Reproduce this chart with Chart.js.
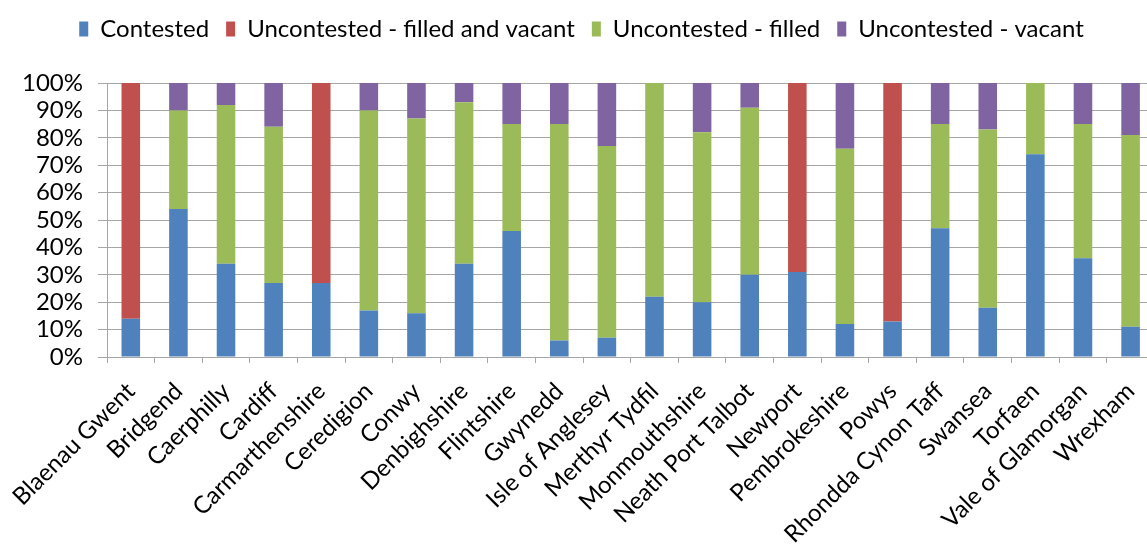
<!DOCTYPE html>
<html>
<head>
<meta charset="utf-8">
<script src="https://cdn.jsdelivr.net/npm/chart.js@4/dist/chart.umd.min.js"></script>
<style>
  html, body { margin: 0; padding: 0; background: #fff; overflow: hidden; }
  #wrap { width: 1165px; height: 545px; }
</style>
</head>
<body>
<div id="wrap"><canvas id="electionChart"></canvas></div>
<script>
// Local authority seats by election status (% of seats)
const authorities = ['Blaenau Gwent', 'Bridgend', 'Caerphilly', 'Cardiff', 'Carmarthenshire',
    'Ceredigion', 'Conwy', 'Denbighshire', 'Flintshire', 'Gwynedd', 'Isle of Anglesey',
    'Merthyr Tydfil', 'Monmouthshire', 'Neath Port Talbot', 'Newport', 'Pembrokeshire',
    'Powys', 'Rhondda Cynon Taff', 'Swansea', 'Torfaen', 'Vale of Glamorgan', 'Wrexham'];
const contested =           [14, 54, 34, 27, 27, 17, 16, 34, 46,  6,  7, 22, 20, 30, 31, 12, 13, 47, 18, 74, 36, 11];
const filledAndVacant =     [86,  0,  0,  0, 73,  0,  0,  0,  0,  0,  0,  0,  0,  0, 69,  0, 87,  0,  0,  0,  0,  0];
const uncontestedFilled =   [ 0, 36, 58, 57,  0, 73, 71, 59, 39, 79, 70, 78, 62, 61,  0, 64,  0, 38, 65, 26, 49, 70];
const uncontestedVacant =   [ 0, 10,  8, 16,  0, 10, 13,  7, 15, 15, 23,  0, 18,  9,  0, 24,  0, 15, 17,  0, 15, 19];
const percentTicks = [0, 10, 20, 30, 40, 50, 60, 70, 80, 90, 100];

const gridGrey = '#a6a6a6';
const font = { family: 'Lato', size: 24 };

// extra space under the legend
const legendGap = {
    id: 'legendGap',
    beforeInit(chart) {
        const fit = chart.legend.fit;
        chart.legend.fit = function () {
            fit.call(this);
            this.height += 32;
        };
    }
};

const ctx = document.getElementById('electionChart').getContext('2d');
const electionChart = new Chart(ctx, {
    type: 'bar',
    data: {
        labels: authorities,
        datasets: [
            { label: 'Contested', data: contested, backgroundColor: '#4f81bd' },
            { label: 'Uncontested - filled and vacant', data: filledAndVacant, backgroundColor: '#c0504d' },
            { label: 'Uncontested - filled', data: uncontestedFilled, backgroundColor: '#9bbb59' },
            { label: 'Uncontested - vacant', data: uncontestedVacant, backgroundColor: '#8064a2' }
        ]
    },
    options: {
        responsive: true,
        maintainAspectRatio: false,
        animation: false,
        layout: { padding: { left: 0, right: 2, top: 0, bottom: 0 } },
        datasets: { bar: { barPercentage: 0.39, categoryPercentage: 1 } },
        plugins: {
            tooltip: { enabled: false },
            legend: {
                position: 'top',
                labels: {
                    color: '#000',
                    font: font,
                    boxWidth: 9,
                    boxHeight: 15,
                    padding: 17
                }
            }
        },
        scales: {
            x: {
                stacked: true,
                afterFit: (scale) => { scale.height = 188; },
                grid: { offset: true, drawOnChartArea: false, color: gridGrey, tickLength: 6 },
                border: { color: gridGrey },
                ticks: { color: '#000', font: font, minRotation: 45, maxRotation: 45, autoSkip: false, padding: 14 }
            },
            y: {
                stacked: true,
                min: 0,
                max: 100,
                afterFit: (scale) => { scale.width = 107; },
                afterBuildTicks: (scale) => { scale.ticks = percentTicks.map(v => ({ value: v })); },
                grid: { color: gridGrey, tickLength: 9 },
                border: { color: gridGrey },
                ticks: { color: '#000', font: font, padding: 15, autoSkip: false, callback: (v) => v + '%' }
            }
        }
    },
    plugins: [legendGap]
});
</script>
</body>
</html>
